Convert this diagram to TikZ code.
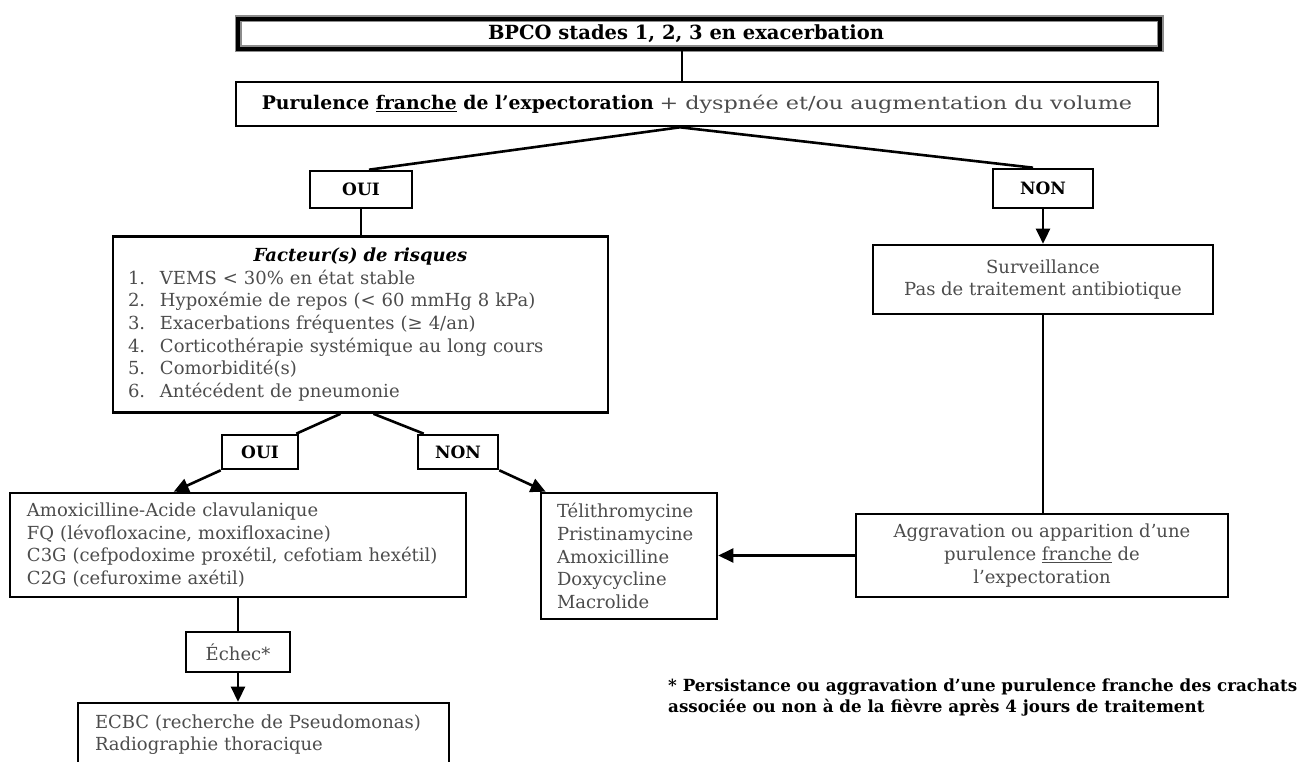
\documentclass[tikz,border=0pt]{standalone}
\usepackage{fontspec}
\setmainfont{DejaVu Serif}
\newfontfamily\wideserif[FakeStretch=1.24]{DejaVu Serif}
\usetikzlibrary{arrows.meta}
\definecolor{txtgray}{gray}{0.3}

\begin{document}
\begin{tikzpicture}
[x=1pt,y=-1pt,
  lineDecorate/.style={-,line width=2.6pt},%
  arrowDecorate/.style={line width=2.6pt,-{Triangle[length=15pt,width=14pt]}},
  nodeDecorate/.style={shape=rectangle,draw,line width=2.6pt,inner sep=0pt,
    text=txtgray,align=center,font=\fontsize{18}{22.6}\selectfont},
  answerDecorate/.style={nodeDecorate,text=black,font=\fontsize{17}{20}\selectfont\bfseries},
  listDecorate/.style={nodeDecorate,align=left,inner xsep=17pt}]
\useasboundingbox (0,0) rectangle (1310,762);
%% boxes
\node (bpco) at (699,34) [nodeDecorate,preaction={draw=black!45,line width=7pt},line width=4pt,
  minimum width=922pt,minimum height=30pt,
  text=black,font=\fontsize{19.5}{22}\selectfont\bfseries] {\hspace*{-26pt}BPCO stades 1, 2, 3 en exacerbation};
\node (purul) at (697,104) [nodeDecorate,minimum width=922pt,minimum height=44pt]
  {{\color{black}\fontsize{18.8}{22}\selectfont\bfseries Purulence \underline{franche} de l'expectoration}
   {\wideserif + dyspnée et/ou augmentation du volume}};
\node (oui1) at (361,189.5) [answerDecorate,minimum width=102pt,minimum height=37pt] {OUI};
\node (non1) at (1043,188.5) [answerDecorate,minimum width=100pt,minimum height=39pt] {NON};
\node (risques) at (360.5,324.5) [listDecorate,inner xsep=15pt,text width=465pt,minimum height=176pt]
  {\makebox[465pt]{\color{black}\bfseries\itshape Facteur(s) de risques}\\
   \makebox[32pt][l]{1.}VEMS < 30\% en état stable\\
   \makebox[32pt][l]{2.}Hypoxémie de repos (< 60 mmHg 8 kPa)\\
   \makebox[32pt][l]{3.}Exacerbations fréquentes (≥ 4/an)\\
   \makebox[32pt][l]{4.}Corticothérapie systémique au long cours\\
   \makebox[32pt][l]{5.}Comorbidité(s)\\
   \makebox[32pt][l]{6.}Antécédent de pneumonie};
\node (surv) at (1043,279.5) [nodeDecorate,minimum width=340pt,minimum height=69pt]
  {Surveillance\\Pas de traitement antibiotique};
\node (oui2) at (260,452) [answerDecorate,minimum width=76pt,minimum height=34pt] {OUI};
\node (non2) at (458,452) [answerDecorate,minimum width=80pt,minimum height=34pt] {NON};
\node (amox) at (238,545) [listDecorate,text width=422pt,minimum height=104pt]
  {Amoxicilline-Acide clavulanique\\
   FQ (lévofloxacine, moxifloxacine)\\
   C3G (cefpodoxime proxétil, cefotiam hexétil)\\
   C2G (cefuroxime axétil)};
\node (telith) at (629,556) [listDecorate,inner xsep=16pt,text width=144pt,minimum height=126pt]
  {Télithromycine\\Pristinamycine\\Amoxicilline\\Doxycycline\\Macrolide};
\node (aggrav) at (1042,555.5) [nodeDecorate,minimum width=372pt,minimum height=83pt]
  {Aggravation ou apparition d'une\\purulence \underline{franche} de\\l'expectoration};
\node (echec) at (238,652) [nodeDecorate,minimum width=104pt,minimum height=40pt] {Échec*};
\node (ecbc) at (263.5,734.5) [listDecorate,text width=337pt,minimum height=63pt]
  {ECBC (recherche de Pseudomonas)\\Radiographie thoracique};
\node (note) at (668,679) [anchor=north west,inner sep=0pt,align=left,
  font=\fontsize{16.7}{20.5}\selectfont\bfseries]
  {* Persistance ou aggravation d'une purulence franche des crachats\\
   associée ou non à de la fièvre après 4 jours de traitement};
%% connectors
\draw[lineDecorate] ([xshift=-17pt]bpco.south) -- ([xshift=-15pt]purul.north);
\draw[lineDecorate] ([xshift=-17pt]purul.south) -- ([xshift=8pt]oui1.north);
\draw[lineDecorate] ([xshift=-17pt]purul.south) -- ([xshift=-10pt]non1.north);
\draw[lineDecorate] (oui1.south) -- (oui1.south |- risques.north);
\draw[arrowDecorate] (non1.south) -- (surv.north);
\draw[lineDecorate] (surv.south) -- (surv.south |- aggrav.north);
\draw[arrowDecorate] (aggrav.west) -- (aggrav.west -| telith.east);
\draw[lineDecorate] ([xshift=-20pt]risques.south) -- ([xshift=-3pt]oui2.north east);
\draw[lineDecorate] ([xshift=13pt]risques.south) -- ([xshift=7pt]non2.north west);
\draw[arrowDecorate] (oui2.south west) -- ([xshift=165pt]amox.north west);
\draw[arrowDecorate] (non2.south east) -- ([xshift=6pt]telith.north west);
\draw[lineDecorate] (amox.south) -- (echec.north);
\draw[arrowDecorate] (echec.south) -- (echec.south |- ecbc.north);
\end{tikzpicture}
\end{document}
